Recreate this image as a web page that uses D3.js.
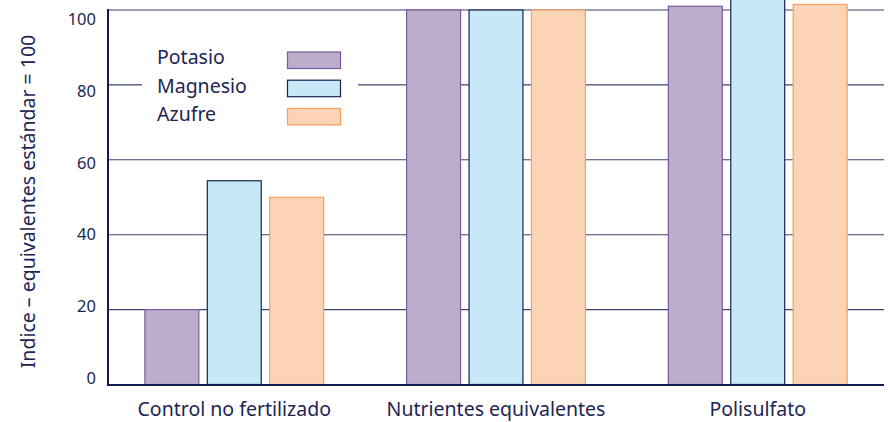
<!DOCTYPE html>
<html>
<head>
<meta charset="utf-8">
<script src="https://cdn.jsdelivr.net/npm/d3@7"></script>
<style>
  html, body { margin: 0; padding: 0; background: #fff; }
  svg { display: block; }
  text { font-family: "Noto Sans", "Open Sans", sans-serif; fill: #1c2452; }
</style>
</head>
<body>
<svg id="chart" width="890" height="422"></svg>
<script>
const categories = ["Control no fertilizado", "Nutrientes equivalentes", "Polisulfato"];
const seriesNames = ["Potasio", "Magnesio", "Azufre"];
const potasio  = [20, 100, 101];
const magnesio = [54.4, 100, 106];
const azufre   = [50, 100, 101.5];
const yTicks = [0, 20, 40, 60, 80, 100];
const yTitle = "Indice – equivalentes estándar = 100";

const fills   = ["#bcaecb", "#c6e8f7", "#fbd3b5"];
const strokes = ["#7a5a9e", "#1a2255", "#f5a061"];

const series = [potasio, magnesio, azufre];

const svg = d3.select("#chart");
const plotLeft = 108, plotRight = 884, plotTop = 10, plotBottom = 384.5;

const y = d3.scaleLinear().domain([0, 100]).range([plotBottom, plotTop]);
// tick labels hang just under their gridlines, on a slightly tighter spacing
const yLabel = d3.scaleLinear().domain([0, 100]).range([384, 25]);
const x0 = d3.scaleBand().domain(categories).range([plotLeft, plotRight])
  .paddingInner(0.317).paddingOuter(0.141);
const x1 = d3.scaleBand().domain(seriesNames).range([0, x0.bandwidth()])
  .paddingInner(0.136).paddingOuter(0);

// horizontal gridlines
svg.append("g").selectAll("line").data(yTicks.filter(d => d > 0)).join("line")
  .attr("x1", plotLeft).attr("x2", plotRight)
  .attr("y1", d => y(d)).attr("y2", d => y(d))
  .attr("stroke", "#3b4472").attr("stroke-width", 1.1);

// legend panel (sits over the gridline)
const legend = svg.append("g");
legend.append("rect").attr("x", 142).attr("y", 38).attr("width", 216).attr("height", 96).attr("fill", "#fff");
seriesNames.forEach((name, i) => {
  legend.append("text").attr("x", 157).attr("y", 64 + i * 28.6)
    .attr("font-size", 19.5).text(name);
  legend.append("rect").attr("x", 287.5).attr("y", 52 + i * 28.2).attr("width", 53).attr("height", 16.5)
    .attr("fill", fills[i]).attr("stroke", strokes[i]).attr("stroke-width", 1.2);
});

// bars
const groups = svg.append("g").selectAll("g").data(categories).join("g")
  .attr("transform", d => `translate(${x0(d)},0)`);
groups.selectAll("rect")
  .data((c, ci) => seriesNames.map((s, si) => ({ s, si, v: series[si][ci] })))
  .join("rect")
  .attr("x", d => x1(d.s))
  .attr("width", x1.bandwidth())
  .attr("y", d => y(d.v))
  .attr("height", d => plotBottom - y(d.v))
  .attr("fill", d => fills[d.si])
  .attr("stroke", d => strokes[d.si])
  .attr("stroke-width", 1.2);

// axis lines
svg.append("line").attr("x1", plotLeft).attr("x2", plotLeft).attr("y1", plotTop - 1).attr("y2", plotBottom + 1)
  .attr("stroke", "#0f1a4f").attr("stroke-width", 2);
svg.append("line").attr("x1", plotLeft - 1).attr("x2", plotRight).attr("y1", plotBottom + 0.5).attr("y2", plotBottom + 0.5)
  .attr("stroke", "#0f1a4f").attr("stroke-width", 2);

// y tick labels
svg.append("g").selectAll("text").data(yTicks).join("text")
  .attr("x", 96).attr("y", d => yLabel(d))
  .attr("text-anchor", "end").attr("font-size", 16.5)
  .text(d => d);

// category labels
svg.append("g").selectAll("text").data(categories).join("text")
  .attr("x", d => x0(d) + x0.bandwidth() / 2).attr("y", 416)
  .attr("text-anchor", "middle").attr("font-size", 19.5)
  .text(d => d);

// y title
svg.append("text")
  .attr("transform", "translate(35,201.5) rotate(-90)")
  .attr("text-anchor", "middle").attr("font-size", 19.5)
  .text(yTitle);
</script>
</body>
</html>
